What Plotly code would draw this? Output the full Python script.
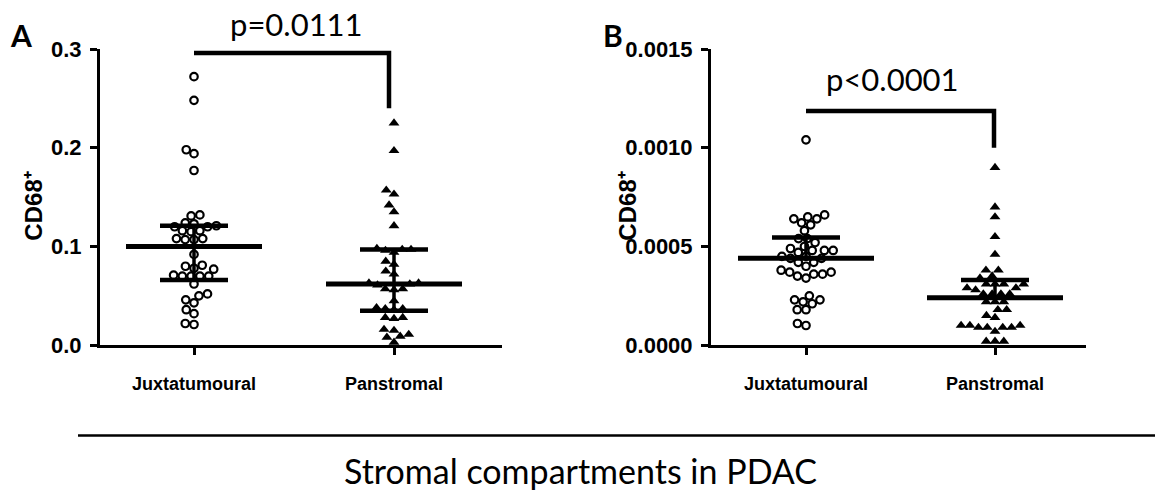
import math
import plotly.graph_objects as go

# ---------------- data ----------------
categories = ["Juxtatumoural", "Panstromal"]

a_juxta = [0.272, 0.248, 0.198, 0.194, 0.177, 0.132, 0.131, 0.124, 0.123, 0.121,
           0.120, 0.120, 0.116, 0.116, 0.115, 0.108, 0.108, 0.107, 0.107, 0.092,
           0.081, 0.080, 0.078, 0.077, 0.071, 0.070, 0.070, 0.070, 0.070, 0.062,
           0.052, 0.050, 0.046, 0.043, 0.036, 0.032, 0.022, 0.021]
a_pan = [0.225, 0.197, 0.157, 0.153, 0.142, 0.135, 0.121, 0.098, 0.097, 0.097,
         0.096, 0.094, 0.085, 0.082, 0.075, 0.072, 0.063, 0.063, 0.062, 0.061,
         0.057, 0.057, 0.056, 0.045, 0.038, 0.037, 0.037, 0.036, 0.028, 0.028,
         0.027, 0.016, 0.015, 0.011, 0.009, 0.008, 0.003]
b_juxta = [0.00104, 0.00066, 0.00065, 0.00064, 0.00064, 0.00062, 0.00061, 0.00058,
           0.00054, 0.00054, 0.00052, 0.00050, 0.00049, 0.00048, 0.00048, 0.00048,
           0.00047, 0.00045, 0.00045, 0.00044, 0.00044, 0.00042, 0.00042, 0.00040,
           0.00038, 0.00037, 0.00037, 0.00036, 0.00036, 0.00035, 0.00034, 0.00025,
           0.00023, 0.00023, 0.00022, 0.00021, 0.00018, 0.00018, 0.00011, 0.00010]
b_pan = [0.00090, 0.00070, 0.00065, 0.00055, 0.00046, 0.00038, 0.00038, 0.00035,
         0.00034, 0.00031, 0.00031, 0.00031, 0.00031, 0.00029, 0.00029, 0.00028,
         0.00026, 0.00026, 0.00026, 0.00026, 0.00022, 0.00022, 0.00022, 0.00018,
         0.00018, 0.00015, 0.00014, 0.00010, 0.00010, 0.00010, 0.00009, 0.00009,
         0.00009, 0.00009, 0.00007, 0.00002, 0.00002, 0.00002]

a_median = [0.100, 0.062]
a_upper = [0.121, 0.097]
a_lower = [0.066, 0.035]
b_median = [0.00044, 0.00024]
b_upper = [0.000545, 0.00033]

a_bracket = [0.296, 0.240]
b_bracket = [0.001186, 0.0010]
a_pvalue = "p=0.0111"
b_pvalue = "p<0.0001"

a_yticks = [0.0, 0.1, 0.2, 0.3]
b_yticks = [0.0, 0.0005, 0.0010, 0.0015]
y_title = "CD68⁺"
footer = "Stromal compartments in PDAC"

# ---------------- layout geometry (pixels) ----------------
W, H = 1155, 494
YTOP, YBOT = 39, 351
panels = {
    "A": dict(xl=100, xr=502, c0=194, c1=394, ymax=0.3,
              fmt=".1f", ticks=a_yticks, letter_x=21, title_x=34, bracket_x=389,
              p_x=297, p_y=13),
    "B": dict(xl=711, xr=1086, c0=806, c1=995, ymax=0.0015,
              fmt=".4f", ticks=b_yticks, letter_x=613, title_x=628, bracket_x=994,
              p_x=892, p_y=71),
}

MED_HALF_PX = 68
IQR_HALF_PX = 34
DOT_PX = 8.8


def swarm(values, ppu_x, ppu_y, d):
    placed = []
    offs = [0.0] * len(values)
    order = sorted(range(len(values)), key=lambda i: values[i])
    for i in order:
        y = values[i] * ppu_y
        cands = [0.0]
        for (xp, yp) in placed:
            dy = abs(y - yp)
            if dy < d:
                dx = math.sqrt(d * d - dy * dy)
                cands += [xp + dx, xp - dx]
        valid = [c for c in cands
                 if all((c - xp) ** 2 + (y - yp) ** 2 >= d * d - 1e-6 for (xp, yp) in placed)]
        best = min(valid, key=lambda c: (abs(c), c))
        placed.append((best, y))
        offs[i] = best / ppu_x
    return offs


fig = go.Figure()
axis_names = {"A": ("x", "y", "xaxis", "yaxis"), "B": ("x2", "y2", "xaxis2", "yaxis2")}
data_sets = {"A": (a_juxta, a_pan, a_median, a_upper, a_lower, a_bracket, a_pvalue),
             "B": (b_juxta, b_pan, b_median, b_upper, None, b_bracket, b_pvalue)}

tick_font = dict(family="Liberation Sans", size=22, color="black", weight="bold")
cat_font = dict(family="Liberation Sans", size=18, color="black", weight="bold")


def line_trace(xs, ys, xa, ya, w):
    return go.Scatter(x=xs, y=ys, mode="lines", xaxis=xa, yaxis=ya,
                      line=dict(color="black", width=w), cliponaxis=False,
                      showlegend=False, hoverinfo="skip")


annotations = []
for key, p in panels.items():
    xa, ya, xname, yname = axis_names[key]
    juxta, pan, med, upp, low, brk, ptxt = data_sets[key]
    ppu_x = p["c1"] - p["c0"]
    ppu_y = (YBOT - YTOP) / p["ymax"]
    x_lo = (p["xl"] - p["c0"]) / ppu_x
    x_hi = (p["xr"] - p["c0"]) / ppu_x

    for ci, (vals, sym, size) in enumerate([(juxta, "circle-open", 7.5), (pan, "triangle-up", 9.5)]):
        offs = swarm(vals, ppu_x, ppu_y, DOT_PX)
        fig.add_trace(go.Scatter(
            x=[ci + o for o in offs], y=vals, mode="markers", xaxis=xa, yaxis=ya,
            marker=dict(symbol=sym, size=size, color="black",
                        line=dict(color="black", width=2.2 if ci == 0 else 0)),
            cliponaxis=False, showlegend=False, hoverinfo="skip"))

    mh = MED_HALF_PX / ppu_x
    ih = IQR_HALF_PX / ppu_x
    for ci in range(2):
        bottom = low[ci] if low is not None else med[ci]
        fig.add_trace(line_trace([ci, ci], [bottom, upp[ci]], xa, ya, 3.5))
        fig.add_trace(line_trace([ci - mh, ci + mh], [med[ci], med[ci]], xa, ya, 5))
        fig.add_trace(line_trace([ci - ih, ci + ih], [upp[ci], upp[ci]], xa, ya, 4.5))
        if low is not None:
            fig.add_trace(line_trace([ci - ih, ci + ih], [low[ci], low[ci]], xa, ya, 4.5))

    bx = (p["bracket_x"] - p["c0"]) / ppu_x
    fig.add_trace(line_trace([0, bx, bx], [brk[0], brk[0], brk[1]], xa, ya, 4.5))

    dom_x = [p["xl"] / W, p["xr"] / W]
    dom_y = [1 - YBOT / H, 1 - YTOP / H]
    fig.layout[xname] = dict(domain=dom_x, range=[x_lo, x_hi], anchor=ya,
                             tickvals=[0, 1], ticktext=categories,
                             showline=True, linecolor="black", linewidth=3,
                             ticks="outside", ticklen=7, tickwidth=3, tickcolor="black",
                             ticklabelstandoff=13,
                             showgrid=False, zeroline=False, tickfont=cat_font)
    fig.layout[yname] = dict(domain=dom_y, range=[0, p["ymax"]], anchor=xa,
                             tickvals=p["ticks"], tickformat=p["fmt"],
                             showline=True, linecolor="black", linewidth=3,
                             ticks="outside", ticklen=7, tickwidth=3, tickcolor="black",
                             ticklabelstandoff=4,
                             showgrid=False, zeroline=False, tickfont=tick_font)

    annotations.append(dict(text=ptxt, x=p["p_x"] / W, y=1 - p["p_y"] / H, xref="paper",
                            yref="paper", showarrow=False, xanchor="center", yanchor="middle",
                            font=dict(family="Lato", size=31, color="black")))
    annotations.append(dict(text=key, x=p["letter_x"] / W, y=1 - 24 / H, xref="paper",
                            yref="paper", showarrow=False, xanchor="center", yanchor="middle",
                            font=dict(family="Lato", size=30, color="black", weight="bold")))
    annotations.append(dict(text=y_title, x=p["title_x"] / W, y=1 - 205 / H, xref="paper",
                            yref="paper", showarrow=False, xanchor="center", yanchor="middle",
                            textangle=-90,
                            font=dict(family="Liberation Sans", size=24, color="black",
                                      weight="bold")))

annotations.append(dict(text=footer, x=580 / W, y=1 - 483 / H, xref="paper", yref="paper",
                        showarrow=False, xanchor="center", yanchor="middle",
                        font=dict(family="Lato", size=34, color="black")))

fig.update_layout(
    width=W, height=H, margin=dict(l=0, r=0, t=0, b=0),
    paper_bgcolor="white", plot_bgcolor="white",
    annotations=annotations,
    shapes=[dict(type="line", xref="paper", yref="paper", x0=78 / W, x1=1,
                 y0=1 - 446 / H, y1=1 - 446 / H, line=dict(color="black", width=2.5))],
)

fig.write_html("out.html", config={"displayModeBar": False},
               post_script="document.body.style.margin='0px';")
